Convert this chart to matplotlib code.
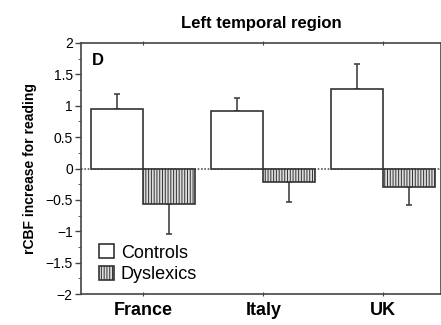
import numpy as np
import matplotlib.pyplot as plt
from matplotlib.ticker import MultipleLocator

plt.rcParams['font.family'] = ['Liberation Sans', 'DejaVu Sans']
plt.rcParams['hatch.color'] = '#888888'
plt.rcParams['hatch.linewidth'] = 0.7

countries = ['France', 'Italy', 'UK']
controls = [0.94, 0.91, 1.27]
controls_err = [0.24, 0.21, 0.40]
dyslexics = [-0.56, -0.21, -0.30]
dyslexics_err = [0.49, 0.32, 0.28]

fig = plt.figure(figsize=(4.41, 3.25), dpi=100)
ax = fig.add_axes([0.184, 0.095, 0.816, 0.773])

x = np.arange(len(countries))
w = 0.433

# error bars only on the outer side of each bar
ax.errorbar(x - w/2, controls, yerr=[np.zeros(3), controls_err], fmt='none',
            ecolor='#444444', elinewidth=1.2, capsize=2.5, capthick=1.2, zorder=1)
ax.errorbar(x + w/2, dyslexics, yerr=[dyslexics_err, np.zeros(3)], fmt='none',
            ecolor='#444444', elinewidth=1.2, capsize=2.5, capthick=1.2, zorder=1)

ax.bar(x - w/2, controls, w, color='white', edgecolor='#333333', linewidth=1.2,
       label='Controls', zorder=2)
ax.bar(x + w/2, dyslexics, w, color='#dcdcdc', edgecolor='#333333', linewidth=1.2,
       hatch='||||||', label='Dyslexics', zorder=2)

ax.axhline(0, color='#555555', linewidth=1.2, linestyle=(0, (1, 1)), zorder=0)

ax.set_xlim(-0.517, 2.48)
ax.set_ylim(-2, 2)
ax.set_xticks(x)
ax.set_xticklabels(countries, fontsize=13, fontweight='bold')
ax.yaxis.set_minor_locator(MultipleLocator(0.25))
ax.set_yticks([2, 1.5, 1, 0.5, 0, -0.5, -1, -1.5, -2])
ax.set_yticklabels(['2', '1.5', '1', '0.5', '0', '\u22120.5', '\u22121', '\u22121.5', '\u22122'])
ax.tick_params(axis='y', labelsize=10, length=4, width=1, pad=2, color='#444444')
ax.tick_params(axis='y', which='minor', length=2, color='#444444')
ax.tick_params(axis='x', length=3, top=True, direction='inout', pad=4, color='#444444')

for s in ax.spines.values():
    s.set_color('#444444')
    s.set_linewidth(1.2)

ax.set_ylabel('rCBF increase for reading', fontsize=10, fontweight='bold', labelpad=6)
ax.set_title('Left temporal region', fontsize=12, fontweight='bold', pad=11)
ax.text(0.03, 0.96, 'D', transform=ax.transAxes, fontsize=12, fontweight='bold',
        va='top', ha='left')

ax.legend(loc='lower left', frameon=False, fontsize=13, handlelength=0.8,
          handleheight=0.8, handletextpad=0.4, labelspacing=0.25,
          borderaxespad=0.2, bbox_to_anchor=(0.02, 0.0))

fig.savefig('out.png', dpi=100)
